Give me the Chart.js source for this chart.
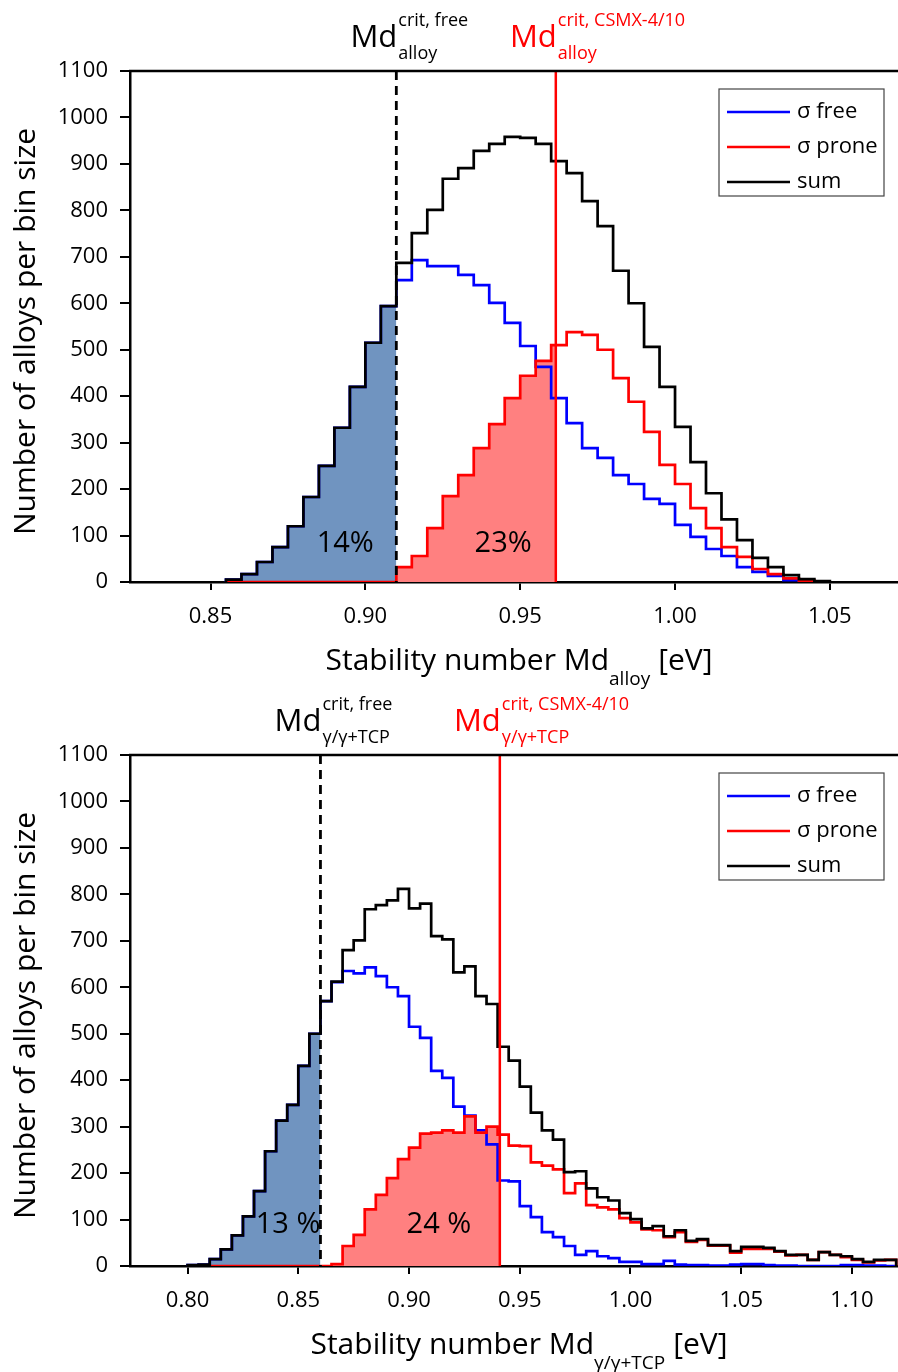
<!DOCTYPE html>
<html>
<head>
<meta charset="utf-8">
<script src="https://cdn.jsdelivr.net/npm/chart.js@4.4.0/dist/chart.umd.min.js"></script>
<style>
  html, body { margin: 0; padding: 0; background: #fff; }
  .page { position: relative; width: 898px; height: 1372px; }
  .page canvas { position: absolute; left: 0; }
  #chartAlloy { top: 0; }
  #chartTcp { top: 686px; }
</style>
</head>
<body>
<div class="page">
  <canvas id="chartAlloy" width="898" height="700"></canvas>
  <canvas id="chartTcp" width="898" height="686"></canvas>
</div>
<script>
// ---- data: histogram counts per 0.005 eV bin ----
const binWidth = 0.005;

// top panel: Md_alloy, bins start at 0.855
const alloyBinStart = 0.855;
const alloySum   = [5, 17, 43, 75, 120, 183, 250, 332, 420, 515, 594, 687, 751, 801, 868, 891, 928, 943, 958, 956,
                    943, 906, 880, 820, 766, 670, 600, 506, 420, 334, 258, 191, 135, 90, 52, 32, 15, 6, 2];
const alloyFree  = [5, 17, 43, 75, 120, 183, 250, 332, 420, 515, 594, 650, 693, 680, 680, 661, 639, 601, 558, 508,
                    463, 396, 342, 288, 267, 230, 211, 179, 168, 123, 97, 71, 56, 32, 22, 13, 4, 1, 0];
const alloyProne = [0, 0, 0, 0, 0, 0, 0, 0, 0, 0, 0, 32, 56, 116, 185, 230, 288, 340, 396, 444,
                    476, 510, 538, 532, 500, 439, 388, 323, 252, 211, 159, 116, 75, 54, 28, 17, 8, 3, 0];
const alloyCritFree = 0.910;
const alloyCritCsmx = 0.9615;
const alloyTicks = [0.85, 0.90, 0.95, 1.00, 1.05];
const alloyRange = [0.824, 1.072];
const alloyShares = [{ text: '14%', x: 0.8935, y: 82 }, { text: '23%', x: 0.9445, y: 82 }];

// bottom panel: Md_gamma/gamma+TCP, bins start at 0.800
const tcpBinStart = 0.800;
const tcpSum   = [2, 3, 15, 36, 66, 107, 161, 247, 313, 347, 431, 500, 570, 612, 680, 701, 768, 777, 787, 812,
                  770, 780, 710, 703, 632, 645, 581, 564, 472, 442, 386, 330, 292, 272, 202, 204, 167, 148, 141, 114,
                  101, 81, 86, 64, 77, 54, 58, 45, 45, 32, 41, 41, 39, 32, 24, 24, 13, 30, 24, 21,
                  15, 9, 13, 13];
const tcpFree  = [2, 3, 15, 36, 66, 107, 161, 247, 313, 347, 431, 500, 570, 611, 635, 630, 643, 624, 600, 581,
                  515, 491, 420, 405, 343, 324, 292, 262, 184, 182, 129, 105, 73, 62, 43, 24, 32, 21, 17, 9,
                  9, 4, 4, 11, 3, 2, 2, 1, 1, 3, 4, 4, 2, 1, 1, 0, 0, 0, 0, 2,
                  2, 1, 1, 0];
const tcpProne = [0, 0, 0, 0, 0, 0, 0, 0, 0, 0, 0, 0, 0, 4, 43, 67, 122, 153, 189, 230,
                  255, 285, 287, 292, 287, 322, 287, 300, 283, 259, 258, 223, 216, 208, 157, 178, 131, 126, 122, 103,
                  94, 79, 77, 62, 73, 52, 56, 44, 44, 29, 37, 37, 37, 31, 23, 24, 13, 30, 24, 19,
                  13, 8, 12, 13];
const tcpCritFree = 0.860;
const tcpCritCsmx = 0.941;
const tcpTicks = [0.80, 0.85, 0.90, 0.95, 1.00, 1.05, 1.10];
const tcpRange = [0.774, 1.1208];
const tcpShares = [{ text: '13 %', x: 0.8454, y: 88 }, { text: '24 %', x: 0.9135, y: 88 }];

const yTicks = [0, 100, 200, 300, 400, 500, 600, 700, 800, 900, 1000, 1100];

const FONT = '"Open Sans", "DejaVu Sans", sans-serif';
const PLOT_H = 511;

// histogram -> step points (left bin edges, closed at both ends)
function steps(start, values) {
    const pts = [{ x: start, y: 0 }];
    values.forEach((v, i) => pts.push({ x: start + i * binWidth, y: v }));
    pts.push({ x: start + values.length * binWidth, y: 0 });
    return pts;
}

// fill under a series between two x values
function stepsBetween(start, values, from, to) {
    const pts = [{ x: from, y: 0 }];
    for (let i = 0; i < values.length; i++) {
        const edge = start + i * binWidth;
        if (edge + binWidth <= from + 1e-9) continue;
        if (edge >= to - 1e-9) break;
        pts.push({ x: Math.max(edge, from), y: values[i] });
    }
    pts.push({ x: to, y: 0 });
    return pts;
}

function drawScript(ctx, x, base, parts) {
    ctx.textAlign = 'left';
    ctx.textBaseline = 'alphabetic';
    let cx = x;
    parts.forEach(p => {
        ctx.font = p.size + 'px ' + FONT;
        ctx.fillText(p.text, cx, base + (p.dy || 0));
        cx += ctx.measureText(p.text).width + (p.gap || 0);
    });
}

function measureParts(ctx, parts) {
    let w = 0;
    parts.forEach(p => {
        ctx.font = p.size + 'px ' + FONT;
        w += ctx.measureText(p.text).width + (p.gap || 0);
    });
    return w;
}

const decor = {
    id: 'decor',
    afterDatasetsDraw(chart, args, o) {
        const { ctx, chartArea: a, scales: { x, y } } = chart;
        ctx.save();

        // critical Md lines
        const xf = x.getPixelForValue(o.critFree);
        const xc = x.getPixelForValue(o.critCsmx);
        ctx.lineWidth = 2.8;
        ctx.strokeStyle = '#000';
        ctx.setLineDash([9, 6]);
        ctx.beginPath(); ctx.moveTo(xf, a.top); ctx.lineTo(xf, a.bottom); ctx.stroke();
        ctx.setLineDash([]);
        ctx.strokeStyle = '#ff0000';
        ctx.lineWidth = 2.5;
        ctx.beginPath(); ctx.moveTo(xc, a.top); ctx.lineTo(xc, a.bottom); ctx.stroke();

        // percentages
        ctx.fillStyle = '#000';
        ctx.font = '29px ' + FONT;
        ctx.textAlign = 'center';
        ctx.textBaseline = 'middle';
        o.shares.forEach(s => ctx.fillText(s.text, x.getPixelForValue(s.x), y.getPixelForValue(s.y)));

        ctx.restore();
    },
    afterDraw(chart, args, o) {
        const { ctx, chartArea: a, scales: { x } } = chart;
        ctx.save();

        // top frame line
        ctx.strokeStyle = '#000';
        ctx.lineWidth = 2.5;
        ctx.beginPath(); ctx.moveTo(a.left - 1, a.top); ctx.lineTo(a.right, a.top); ctx.stroke();

        // Md labels above the plot
        const base = a.top - 24;
        [[o.critFree, '#000', 'crit, free'], [o.critCsmx, '#ff0000', 'crit, CSMX-4/10']].forEach(([v, col, sup]) => {
            const px = x.getPixelForValue(v) + 1;
            ctx.fillStyle = col;
            ctx.font = '31px ' + FONT;
            ctx.textAlign = 'right';
            ctx.textBaseline = 'alphabetic';
            ctx.fillText('Md', px, base);
            ctx.font = '18px ' + FONT;
            ctx.textAlign = 'left';
            ctx.fillText(sup, px + 1, base - 21);
            ctx.fillText(o.sub, px + 1, base + 12);
        });

        // x axis title with subscript
        ctx.fillStyle = '#000';
        const parts = [
            { text: 'Stability number Md', size: 30 },
            { text: o.sub, size: 19, dy: 15, gap: 8 },
            { text: '[eV]', size: 30 }
        ];
        const w = measureParts(ctx, parts);
        drawScript(ctx, (a.left + a.right) / 2 + 5 - w / 2, a.bottom + 88, parts);

        // y axis title
        ctx.translate(26, (a.top + a.bottom) / 2 + 5);
        ctx.rotate(-Math.PI / 2);
        ctx.font = '30px ' + FONT;
        ctx.textAlign = 'center';
        ctx.textBaseline = 'middle';
        ctx.fillText('Number of alloys per bin size', 0, 0);
        ctx.setTransform(1, 0, 0, 1, 0, 0);

        // legend box
        const lx = 719, ly = a.top + 18, lw = 165, lh = 107;
        ctx.fillStyle = '#fff';
        ctx.fillRect(lx, ly, lw, lh);
        ctx.strokeStyle = '#444';
        ctx.lineWidth = 1.2;
        ctx.strokeRect(lx, ly, lw, lh);
        const items = chart.data.datasets.filter(d => d.label);
        items.forEach((d, i) => {
            const ry = ly + 23 + i * 35;
            ctx.strokeStyle = d.borderColor;
            ctx.lineWidth = 2.5;
            ctx.beginPath(); ctx.moveTo(lx + 8, ry); ctx.lineTo(lx + 71, ry); ctx.stroke();
            ctx.fillStyle = '#000';
            ctx.font = '22px ' + FONT;
            ctx.textAlign = 'left';
            ctx.textBaseline = 'middle';
            ctx.fillText(d.label, lx + 78, ry);
        });

        ctx.restore();
    }
};

function makeChart(id, cfg) {
    const canvas = document.getElementById(id);
    const line = (label, data, color, order) => ({
        label, data, borderColor: color, borderWidth: 2.7, stepped: 'before',
        pointRadius: 0, fill: false, order
    });
    const area = (data, color) => ({
        label: '', data, borderWidth: 0, borderColor: 'rgba(0,0,0,0)', backgroundColor: color,
        stepped: 'before', pointRadius: 0, fill: 'origin', order: 10
    });

    return new Chart(canvas, {
        type: 'line',
        data: {
            datasets: [
                line('\u03c3 free', steps(cfg.start, cfg.free), '#0000ff', 3),
                line('\u03c3 prone', steps(cfg.start, cfg.prone), '#ff0000', 2),
                line('sum', steps(cfg.start, cfg.sum), '#000000', 1),
                area(stepsBetween(cfg.start, cfg.sum, cfg.start, cfg.critFree), '#7094c0'),
                area(stepsBetween(cfg.start, cfg.prone, cfg.critFree, cfg.critCsmx), '#ff8080')
            ]
        },
        options: {
            responsive: false,
            animation: false,
            layout: { padding: { top: cfg.top, right: 0, left: 0, bottom: 0 } },
            plugins: {
                legend: { display: false },
                tooltip: { enabled: false },
                decor: {
                    critFree: cfg.critFree, critCsmx: cfg.critCsmx,
                    shares: cfg.shares, sub: cfg.sub
                }
            },
            scales: {
                x: {
                    type: 'linear',
                    min: cfg.range[0],
                    max: cfg.range[1],
                    z: 1,
                    afterBuildTicks: s => { s.ticks = cfg.ticks.map(v => ({ value: v })); },
                    afterFit: s => { s.height = canvas.height - cfg.top - PLOT_H; },
                    border: { color: '#000', width: 2.5 },
                    grid: { drawOnChartArea: false, color: '#000', lineWidth: 2, tickLength: 8 },
                    ticks: {
                        color: '#000', padding: 14, maxRotation: 0, autoSkip: false,
                        font: { family: FONT, size: 22 },
                        callback: v => v.toFixed(2)
                    }
                },
                y: {
                    min: 0,
                    max: 1100,
                    z: 1,
                    afterBuildTicks: s => { s.ticks = yTicks.map(v => ({ value: v })); },
                    afterFit: s => { s.width = 130; },
                    border: { color: '#000', width: 2.5 },
                    grid: { drawOnChartArea: false, color: '#000', lineWidth: 2, tickLength: 10 },
                    ticks: {
                        color: '#000', padding: 12,
                        font: { family: FONT, size: 22 },
                        callback: v => String(v)
                    }
                }
            }
        },
        plugins: [decor]
    });
}

makeChart('chartAlloy', {
    start: alloyBinStart, sum: alloySum, free: alloyFree, prone: alloyProne,
    critFree: alloyCritFree, critCsmx: alloyCritCsmx,
    ticks: alloyTicks, range: alloyRange, shares: alloyShares,
    sub: 'alloy', top: 71
});

makeChart('chartTcp', {
    start: tcpBinStart, sum: tcpSum, free: tcpFree, prone: tcpProne,
    critFree: tcpCritFree, critCsmx: tcpCritCsmx,
    ticks: tcpTicks, range: tcpRange, shares: tcpShares,
    sub: '\u03b3/\u03b3+TCP', top: 69
});
</script>
</body>
</html>
